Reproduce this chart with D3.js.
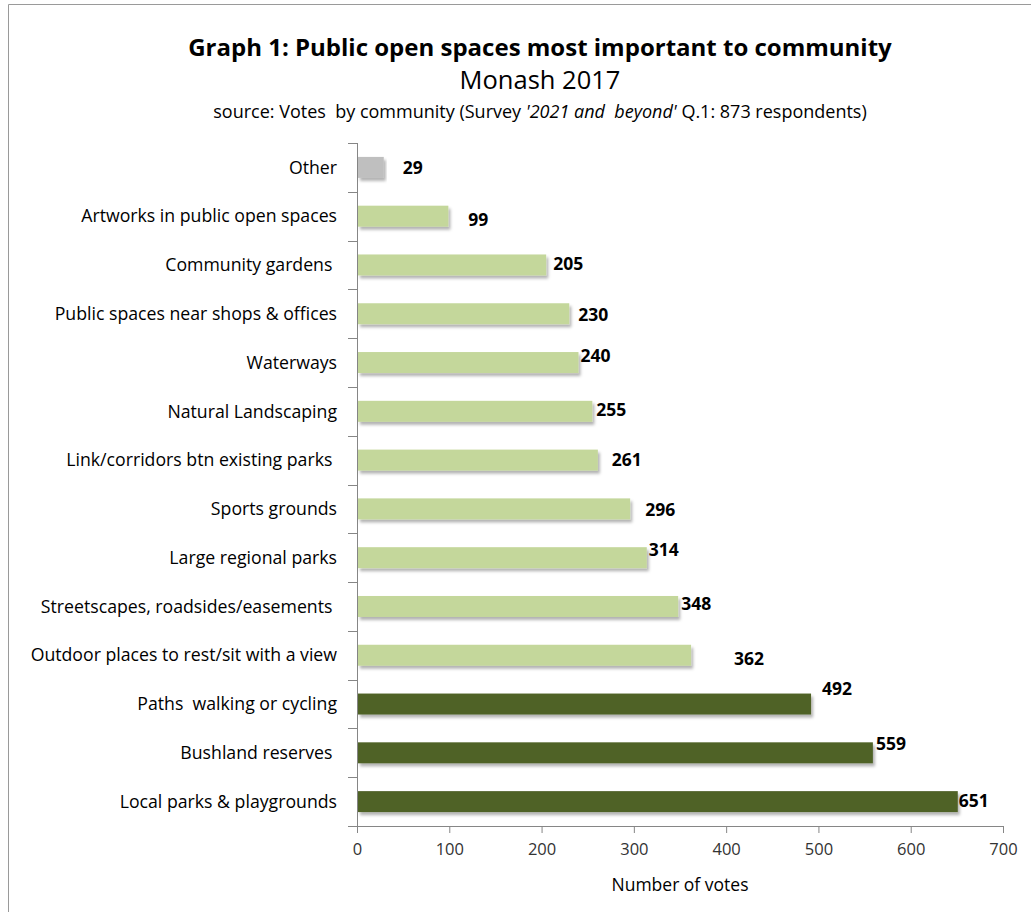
<!DOCTYPE html>
<html><head><meta charset="utf-8">
<script src="https://cdn.jsdelivr.net/npm/d3@7"></script>
<style>
body{margin:0;background:#fff;}
svg{display:block;font-family:"Open Sans",Lato,sans-serif;}
</style></head>
<body>
<svg id="chart" width="1031" height="912"></svg>
<script>
// ---- data ----
const categories = [
  "Other",
  "Artworks in public open spaces",
  "Community gardens ",
  "Public spaces near shops & offices",
  "Waterways",
  "Natural Landscaping",
  "Link/corridors btn existing parks ",
  "Sports grounds",
  "Large regional parks",
  "Streetscapes, roadsides/easements ",
  "Outdoor places to rest/sit with a view",
  "Paths  walking or cycling",
  "Bushland reserves ",
  "Local parks & playgrounds"
];
const votes = [29, 99, 205, 230, 240, 255, 261, 296, 314, 348, 362, 492, 559, 651];
const groups = ["other","mid","mid","mid","mid","mid","mid","mid","mid","mid","mid","top","top","top"];
const xTicks = [0, 100, 200, 300, 400, 500, 600, 700];

// ---- layout (not data) ----
const labelNudge = [[19,0],[20,4],[7,-1],[9,1],[2,-7],[4,-1],[14,0],[15,1],[2,-8],[3,-3],[43,4],[11,-15],[3,-9],[1,-1]];
const colors = {other:"#bfbfbf", mid:"#c4d79b", top:"#4f6228"};
const m = {left:357, right:1003, top:143, bottom:826};
const FONT = "'Open Sans',Lato,sans-serif";

const svg = d3.select("#chart");
const defs = svg.append("defs");
const f = defs.append("filter").attr("id","shadow").attr("x","-5%").attr("y","-30%").attr("width","115%").attr("height","180%");
f.append("feDropShadow").attr("dx",2).attr("dy",3).attr("stdDeviation",1.5).attr("flood-color","#000").attr("flood-opacity",0.3);

// frame
svg.append("line").attr("x1",8.5).attr("x2",8.5).attr("y1",4.5).attr("y2",912).attr("stroke","#9a9a9a");
svg.append("line").attr("x1",8.5).attr("x2",1031).attr("y1",4.5).attr("y2",4.5).attr("stroke","#9a9a9a");

// titles
svg.append("text").attr("x",540).attr("y",56).attr("text-anchor","middle")
  .attr("font-size",24).attr("font-weight","bold").attr("fill","#000")
  .text("Graph 1: Public open spaces most important to community");
svg.append("text").attr("x",540).attr("y",89).attr("text-anchor","middle")
  .attr("font-size",25.5).attr("fill","#000").text("Monash 2017");
const src = svg.append("text").attr("x",540).attr("y",118).attr("text-anchor","middle")
  .attr("font-size",18).attr("fill","#000").style("white-space","pre");
src.append("tspan").text("source: Votes  by community (Survey ");
src.append("tspan").attr("font-style","italic").text("'2021 and  beyond'");
src.append("tspan").text(" Q.1: 873 respondents)");

const x = d3.scaleLinear().domain([0,700]).range([m.left, m.right]);
const y = d3.scaleBand().domain(categories).range([m.top, m.bottom]).paddingInner(0.57).paddingOuter(0.285);

// y axis line and ticks at band boundaries
const step = y.step();
const g = svg.append("g");
g.append("line").attr("x1",m.left+0.5).attr("x2",m.left+0.5).attr("y1",m.top).attr("y2",m.bottom).attr("stroke","#868686");
d3.range(categories.length+1).forEach(i=>{
  const yy = Math.round(m.top + i*step)+0.5;
  g.append("line").attr("x1",m.left-9).attr("x2",m.left).attr("y1",yy).attr("y2",yy).attr("stroke","#868686");
});

// x axis
const xa = svg.append("g").attr("transform",`translate(0,${m.bottom})`)
  .call(d3.axisBottom(x).tickValues(xTicks).tickSize(7).tickSizeOuter(0).tickPadding(10));
xa.select(".domain").attr("stroke","#868686");
xa.selectAll(".tick line").attr("stroke","#868686");
xa.selectAll(".tick text").attr("font-size",16.5).attr("fill","#333").attr("font-family",FONT);

svg.append("text").attr("x",680).attr("y",891).attr("text-anchor","middle").attr("font-size",17.5).attr("fill","#000").text("Number of votes");

// bars
svg.append("g").selectAll("rect").data(votes).join("rect")
  .attr("x",x(0)+1).attr("y",(d,i)=>y(categories[i]))
  .attr("width",d=>x(d)-x(0)-1).attr("height",y.bandwidth())
  .attr("fill",(d,i)=>colors[groups[i]]).attr("filter","url(#shadow)");

// category labels
svg.append("g").selectAll("text").data(categories).join("text")
  .attr("x",337).attr("y",d=>y(d)+y.bandwidth()/2).attr("dy","0.35em")
  .attr("text-anchor","end").attr("font-size",17.7).attr("fill","#000")
  .style("white-space","pre").text(d=>d);

// value labels
svg.append("g").selectAll("text").data(votes).join("text")
  .attr("x",(d,i)=>x(d)+labelNudge[i][0]).attr("y",(d,i)=>y(categories[i])+y.bandwidth()/2+labelNudge[i][1])
  .attr("dy","0.35em").attr("font-size",17.5).attr("font-weight","bold").attr("fill","#000")
  .text(d=>d);
</script>
</body></html>
